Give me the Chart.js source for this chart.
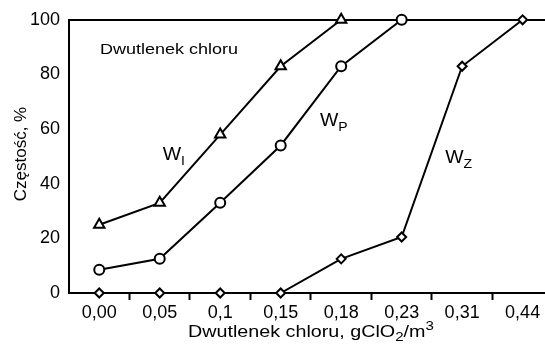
<!DOCTYPE html>
<html>
<head>
<meta charset="utf-8">
<script src="https://cdn.jsdelivr.net/npm/chart.js@4"></script>
<style>
  html, body { margin: 0; padding: 0; background: #fff; overflow: hidden; }
  canvas { display: block; }
</style>
</head>
<body>
<canvas id="chart" width="545" height="347"></canvas>
<script>
const doses = ["0,00", "0,05", "0,1", "0,15", "0,18", "0,23", "0,31", "0,44"];
const yTicks = [0, 20, 40, 60, 80, 100];
const wI = [25, 33, 58, 83, 100, null, null, null];
const wP = [8.5, 12.5, 33, 54, 83, 100, null, null];
const wZ = [0, 0, 0, 0, 12.5, 20.5, 83, 100];

const FONT = "'Liberation Sans', Arial, sans-serif";

// categories sit at integer positions; the last one runs past the right edge
function points(values) {
  return values
    .map((v, i) => ({ x: i, y: v }))
    .filter(p => p.y !== null);
}

function series(values, style, radius) {
  return {
    data: points(values),
    borderColor: "#000",
    borderWidth: 2,
    pointStyle: style,
    pointRadius: radius,
    pointBorderWidth: 2,
    pointBackgroundColor: "#fff",
    pointBorderColor: "#000",
    tension: 0,
    clip: false,
  };
}

// horizontally widened text
function wide(ctx, text, x, y, size, sx) {
  ctx.save();
  ctx.font = size + "px " + FONT;
  ctx.translate(x, y);
  ctx.scale(sx, 1);
  ctx.fillText(text, 0, 0);
  const w = ctx.measureText(text).width * sx;
  ctx.restore();
  return w;
}

function wLabel(ctx, x, y, sub) {
  const w = wide(ctx, "W", x, y, 18, 1.08);
  wide(ctx, sub, x + w, y + 5, 13, 1.08);
}

const textPlugin = {
  id: "texts",
  afterDraw(chart) {
    const ctx = chart.ctx;
    const xs = chart.scales.x, ys = chart.scales.y;
    ctx.save();
    ctx.fillStyle = "#000";
    ctx.textBaseline = "alphabetic";
    ctx.textAlign = "left";

    wide(ctx, "Dwutlenek chloru", 100, 54, 15, 1.2);

    wLabel(ctx, xs.getPixelForValue(1.05), ys.getPixelForValue(48.5), "I");
    wLabel(ctx, xs.getPixelForValue(3.65), ys.getPixelForValue(61), "P");
    wLabel(ctx, xs.getPixelForValue(5.72), ys.getPixelForValue(47.5), "Z");

    // x axis title with chemical formula
    let x = 188;
    const y = 337;
    x += wide(ctx, "Dwutlenek chloru, gClO", x, y, 17, 1.16);
    x += wide(ctx, "2", x, y + 4, 13, 1.16);
    x += wide(ctx, "/m", x, y, 17, 1.16);
    wide(ctx, "3", x, y - 7, 13, 1.16);

    // y axis title
    ctx.translate(26, 154);
    ctx.rotate(-Math.PI / 2);
    ctx.textAlign = "center";
    ctx.font = "17px " + FONT;
    ctx.fillText("Częstość, %", 0, 0);
    ctx.restore();
  }
};

const isHalf = v => Math.abs(v - Math.round(v)) > 0.1;

new Chart(document.getElementById("chart"), {
  type: "line",
  data: {
    datasets: [
      series(wI, "triangle", 6),
      series(wP, "circle", 5),
      series(wZ, "rectRot", 4.5),
    ],
  },
  options: {
    responsive: false,
    animation: false,
    layout: { autoPadding: false, padding: { top: 16, right: 0, left: 0, bottom: 0 } },
    plugins: { legend: { display: false }, tooltip: { enabled: false } },
    scales: {
      x: {
        type: "linear",
        min: -0.5,
        max: 7.37,
        afterBuildTicks(scale) {
          const t = [];
          for (let i = 0; i < doses.length; i++) {
            t.push({ value: i - 0.5 }, { value: i });
          }
          scale.ticks = t;
        },
        grid: {
          drawOnChartArea: false,
          drawTicks: true,
          tickLength: 7,
          tickWidth: 2,
          color: c => (c.tick && isHalf(c.tick.value) && c.tick.value > 0 ? "#000" : "rgba(0,0,0,0)"),
        },
        border: { color: "#000", width: 2 },
        ticks: {
          color: "#000",
          font: { family: FONT, size: 18 },
          padding: 2,
          maxRotation: 0,
          autoSkip: false,
          callback: v => (isHalf(v) ? "" : doses[v]),
        },
        afterFit(scale) {
          scale.height = 54;
          scale.paddingLeft = 0;
          scale.paddingRight = 0;
        },
      },
      y: {
        min: 0,
        max: 100,
        afterBuildTicks(scale) { scale.ticks = yTicks.map(v => ({ value: v })); },
        grid: {
          drawTicks: false,
          lineWidth: 2,
          color: c => (c.tick && c.tick.value === 100 ? "#000" : "rgba(0,0,0,0)"),
        },
        border: { color: "#000", width: 2 },
        ticks: { color: "#000", font: { family: FONT, size: 18 }, padding: 9 },
        afterFit(scale) { scale.width = 69; },
      },
    },
  },
  plugins: [textPlugin],
});
</script>
</body>
</html>
